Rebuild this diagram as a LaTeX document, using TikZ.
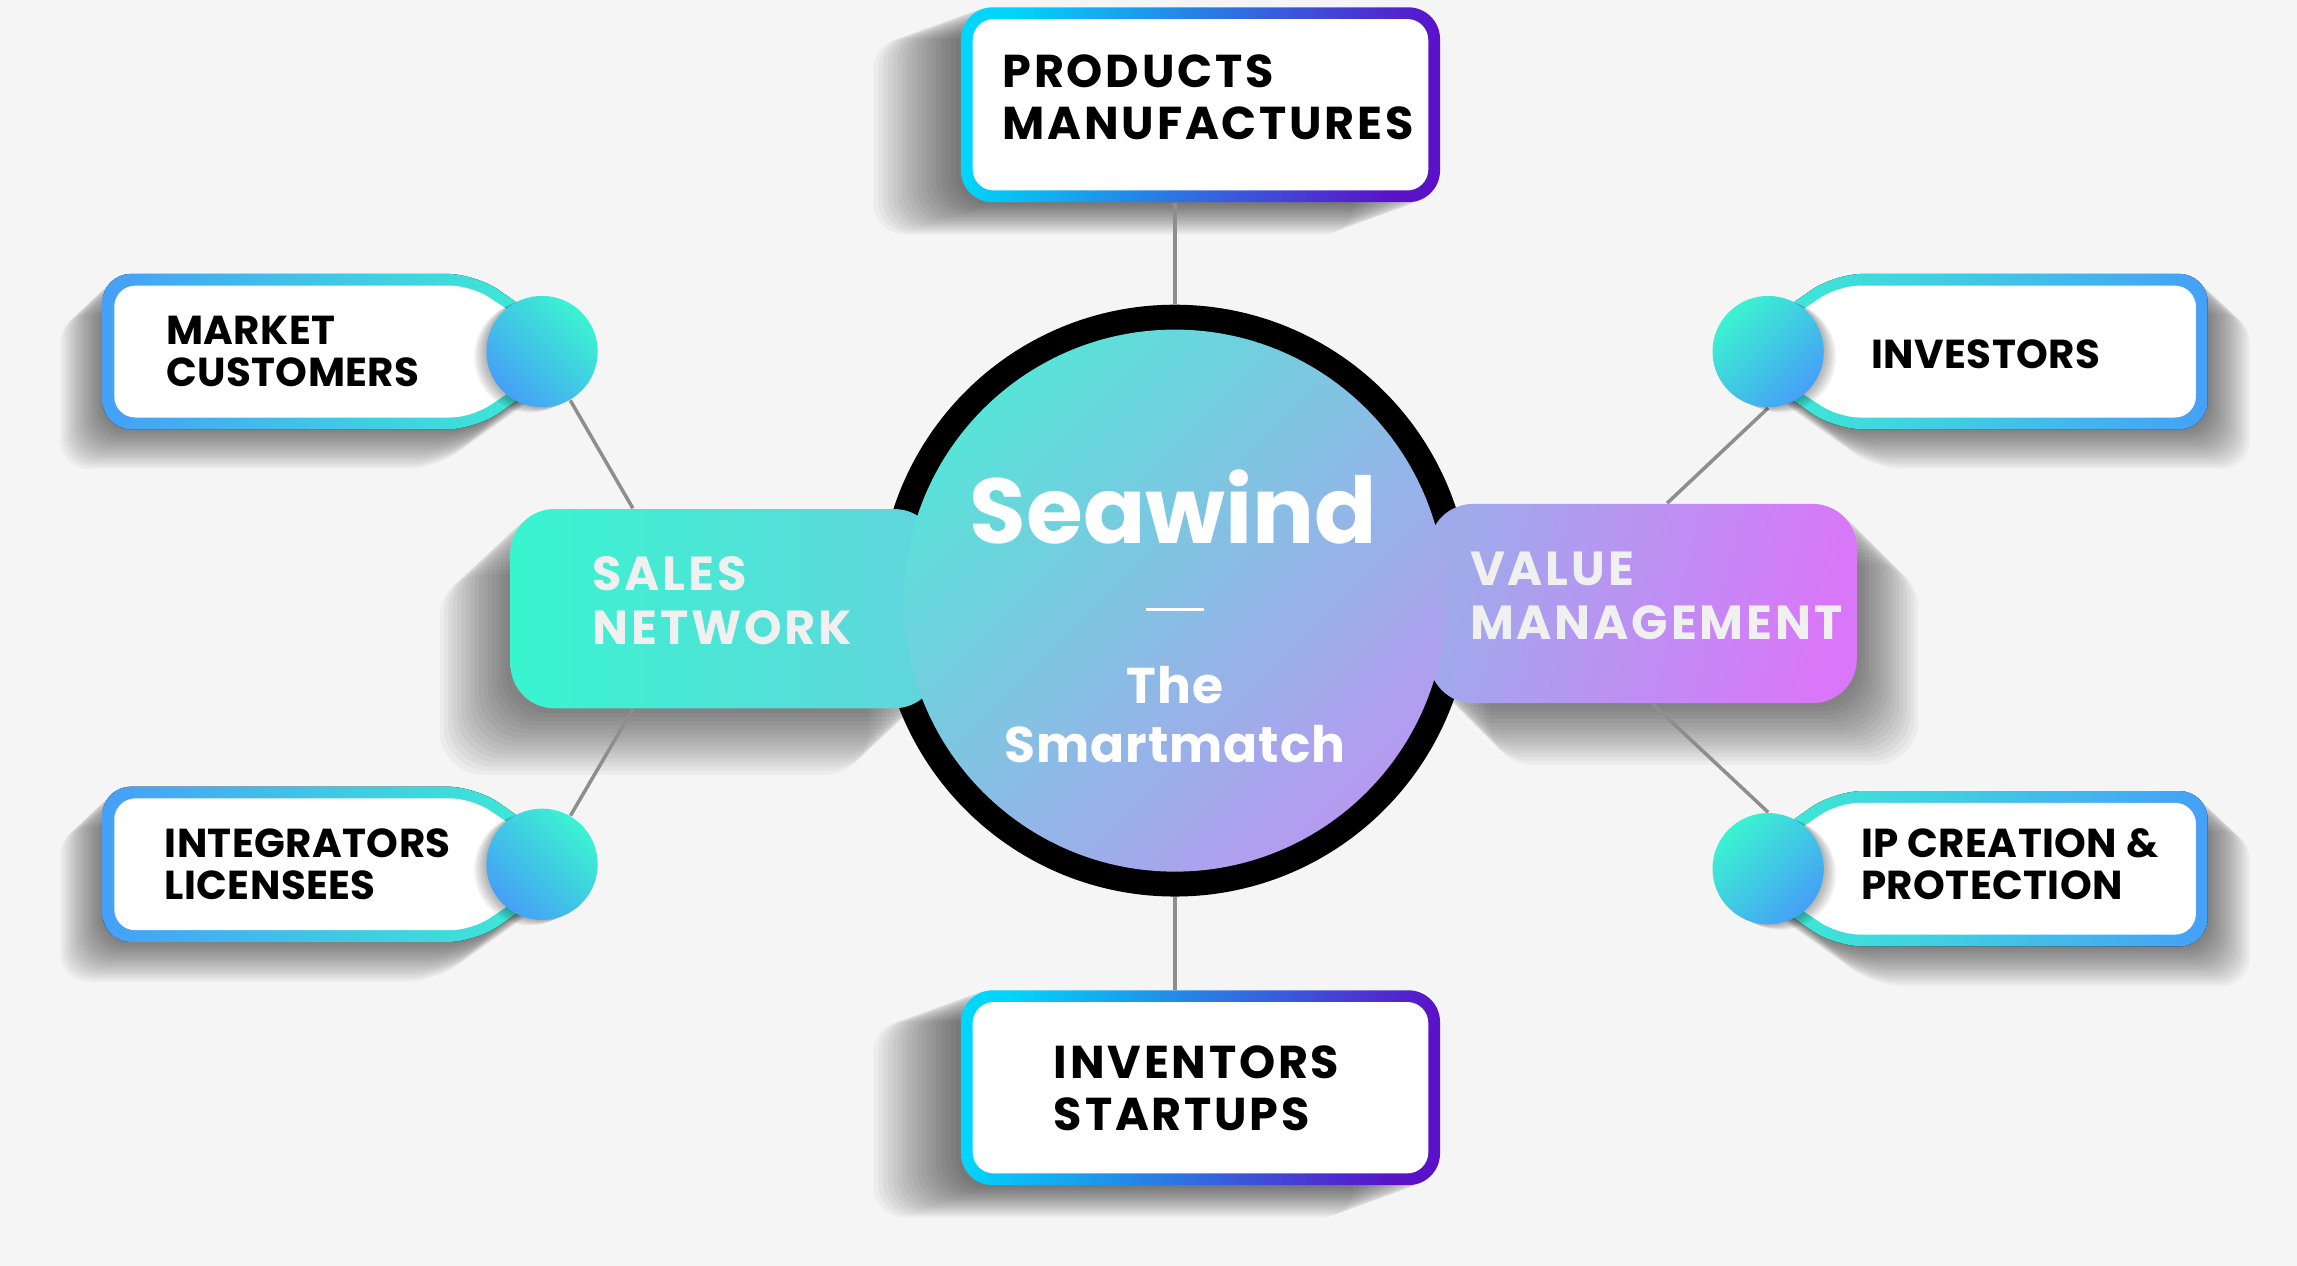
\documentclass[tikz,border=0pt]{standalone}
\usepackage{fontspec}
\usetikzlibrary{positioning, calc}
\newfontfamily\labelfont{Poppins}[LetterSpace=6]
\newfontfamily\tagfont{Poppins}[LetterSpace=1]
\newfontfamily\titlefont{Poppins}
\newfontfamily\subfont{Poppins}[LetterSpace=2]
\definecolor{pagebg}{HTML}{F5F5F5}
\definecolor{tagblue}{HTML}{45A0F7}
\definecolor{tagmint}{HTML}{3CF3D1}
\definecolor{framecyan}{HTML}{00D6FB}
\definecolor{framepurple}{HTML}{5A12C9}
\definecolor{hubteal}{HTML}{58E3D8}
\definecolor{hublilac}{HTML}{B69AF0}
\definecolor{salesmint}{HTML}{38F5CF}
\definecolor{salesaqua}{HTML}{62D4DD}
\definecolor{valuelilac}{HTML}{9FAAEB}
\definecolor{valuepink}{HTML}{DA76F9}
\definecolor{linkgray}{HTML}{8E8E8E}
\newcommand\dpx{0.01465cm}
\pgfdeclarelayer{base}
\pgfdeclarelayer{shade}
\pgfdeclarelayer{wire}
\pgfsetlayers{base,shade,wire,main}

\tikzset{
  pics/tag/.style 2 args={code={
    \begin{pgfonlayer}{shade}
      \foreach \i in {1,...,16}
        \fill[black, opacity=.035, rounded corners=8pt, shift={(-1.8*\i,1.7*\i)}]
          (-300,-53) -- (-45,-53) -- (30,0) -- (-45,53) -- (-300,53) -- cycle;
    \end{pgfonlayer}
    \fill[rounded corners=8pt, left color=#1, right color=#2]
      (-300,-53) -- (-45,-53) -- (30,0) -- (-45,53) -- (-300,53) -- cycle;
    \fill[white, rounded corners=6pt]
      (-292,-45) -- (-48,-45) -- (19,0) -- (-48,45) -- (-292,45) -- cycle;
    \foreach \i in {1,...,6}
      \fill[black, opacity=.05, shift={(-1.4*\i,.6*\i)}] (0,0) circle[radius=38];
  }},
  cardframe/.style={rectangle, rounded corners=9pt, left color=framecyan, right color=framepurple,
    shading angle=75, minimum width=327*\dpx, minimum height=133*\dpx, inner sep=0},
  cardface/.style={rectangle, rounded corners=6pt, fill=white,
    minimum width=311*\dpx, minimum height=117*\dpx, inner sep=0},
  hubbox/.style={rectangle, rounded corners=12.5pt, minimum width=292*\dpx, minimum height=136*\dpx, inner sep=0},
  knob/.style={circle, minimum size=76*\dpx, inner sep=0},
  link/.style={draw=linkgray, line width=1pt},
  boxtext/.style={font=\labelfont\bfseries\fontsize{13.1pt}{14.8pt}\selectfont, text=black, align=left, inner sep=0},
  tagtext/.style={font=\tagfont\bfseries\fontsize{11.5pt}{12.1pt}\selectfont, text=black, align=left, inner sep=0},
  hubtext/.style={font=\labelfont\bfseries\fontsize{13.6pt}{15.4pt}\selectfont, text=white!94!black, align=left, inner sep=0}
}

\begin{document}
\begin{tikzpicture}[x=\dpx, y=-\dpx]
  \begin{pgfonlayer}{base}
    \path[use as bounding box, fill=pagebg] (0,0) rectangle (1568,864);
  \end{pgfonlayer}

  % side tags with their knobs
  \pic at (370,240) {tag={tagblue}{tagmint}};
  \pic at (370,590) {tag={tagblue}{tagmint}};
  \pic[xscale=-1] at (1207,240) {tag={tagmint}{tagblue}};
  \pic[xscale=-1] at (1207,593) {tag={tagmint}{tagblue}};
  \node[knob, left color=tagblue, right color=tagmint, shading angle=135] (mkdot) at (370,240) {};
  \node[knob, left color=tagblue, right color=tagmint, shading angle=135] (indot) at (370,590) {};
  \node[knob, left color=tagmint, right color=tagblue, shading angle=45] (ivdot) at (1207,240) {};
  \node[knob, left color=tagmint, right color=tagblue, shading angle=45] (ipdot) at (1207,593) {};

  % hub
  \node[circle, fill=black, minimum size=404*\dpx, inner sep=0] (hub) at (802,410) {};
  \node[hubbox, left color=salesmint, right color=salesaqua] (sales) at (494.5,415.5) {};
  \node[hubbox, left color=valuelilac, right color=valuepink, shading angle=75] (value) at (1121.5,412) {};
  \node[circle, minimum size=370*\dpx, inner sep=0, left color=hubteal, right color=hublilac,
    shading angle=45] (hubfill) at (hub) {};

  % top and bottom cards
  \node[cardframe] (prod) at (819.5,71.5) {};
  \node[cardface] (prodface) at (prod) {};
  \node[cardframe] (inv) at (819.5,742.5) {};
  \node[cardface] (invface) at (inv) {};

  % shadows
  \begin{pgfonlayer}{shade}
    \foreach \i in {1,...,18} {
      \fill[black, opacity=.035, rounded corners=9pt]
        ($(prod.south west)+(-3.3*\i,1.2*\i)$) rectangle ($(prod.north east)+(-3.3*\i,1.2*\i)$);
      \fill[black, opacity=.035, rounded corners=9pt]
        ($(inv.south west)+(-3.3*\i,1.2*\i)$) rectangle ($(inv.north east)+(-3.3*\i,1.2*\i)$);
    }
    \foreach \i in {1,...,16} {
      \fill[black, opacity=.035, rounded corners=12.5pt]
        ($(sales.south west)+(-3*\i,2.8*\i)$) rectangle ($(sales.north east)+(-3*\i,2.8*\i)$);
      \fill[black, opacity=.035, rounded corners=12.5pt]
        ($(value.south west)+(2.6*\i,2.6*\i)$) rectangle ($(value.north east)+(2.6*\i,2.6*\i)$);
    }
  \end{pgfonlayer}

  % links
  \begin{pgfonlayer}{wire}
    \draw[link] (prod.south -| hub) -- (hub);
    \draw[link] (inv.north -| hub) -- (hub);
    \draw[link] (mkdot) -- ($(sales.north west)+(84,0)$);
    \draw[link] (indot) -- ($(sales.south west)+(84,0)$);
    \draw[link] (ivdot.south) -- ($(value.north west)+(163,0)$);
    \draw[link] (ipdot.north) -- ($(value.south west)+(153,0)$);
  \end{pgfonlayer}

  % labels
  \node[boxtext, anchor=west] (prodtext) at (684,66.3) {PRODUCTS\\MANUFACTURES};
  \node[boxtext, anchor=west] (invtext) at (719,743) {INVENTORS\\STARTUPS};
  \node[tagtext, anchor=west] (mktext) at (113,240) {MARKET\\CUSTOMERS};
  \node[tagtext, anchor=west] (intext) at (112,590) {INTEGRATORS\\LICENSEES};
  \node[tagtext, anchor=west] (ivtext) at (1277,241.5) {INVESTORS};
  \node[tagtext, anchor=west] (iptext) at (1270,590) {IP CREATION \&\\PROTECTION};
  \node[hubtext, anchor=west] (salestext) at (404,410) {SALES\\NETWORK};
  \node[hubtext, anchor=west] (valuetext) at (1003,407) {VALUE\\MANAGEMENT};
  \node[anchor=base, inner sep=0, text=white, font=\titlefont\bfseries\fontsize{26.2pt}{30pt}\selectfont]
    (title) at (801,371) {Seawind};
  \draw[white, line width=.8pt] (782,416) -- (822,416);
  \node[anchor=center, align=center, inner sep=0, text=white, font=\subfont\bfseries\fontsize{14.3pt}{16.7pt}\selectfont]
    (subtitle) at (802,488) {The\\Smartmatch};
\end{tikzpicture}
\end{document}
